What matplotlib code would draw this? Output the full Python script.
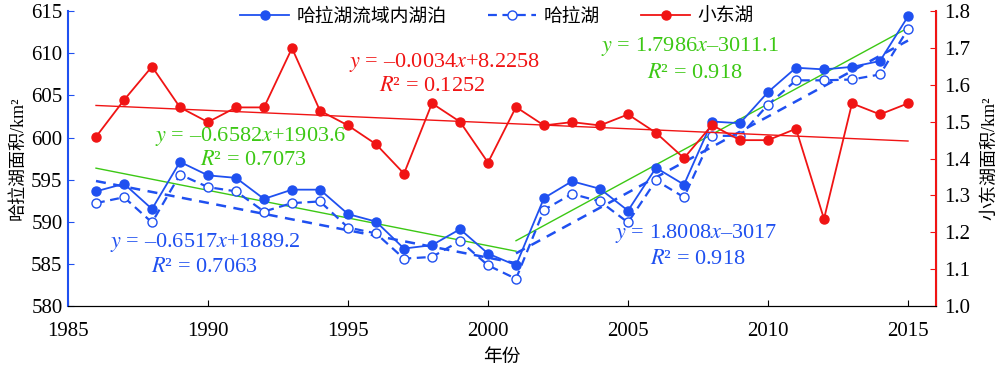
import numpy as np
import matplotlib
matplotlib.use("Agg")
import matplotlib.pyplot as plt

plt.rcParams['font.family'] = ['Liberation Serif', 'Noto Sans CJK SC', 'DejaVu Sans']
plt.rcParams['mathtext.fontset'] = 'stix'

years = list(range(1986, 2016))

# 哈拉湖流域内湖泊 (km2, left axis)
basin_lakes = [593.6, 594.5, 591.5, 597.1, 595.5, 595.2, 592.7, 593.8, 593.8, 590.9,
               590.0, 586.8, 587.2, 589.1, 586.2, 584.8, 592.8, 594.8, 593.9, 591.3,
               596.4, 594.4, 601.9, 601.7, 605.4, 608.3, 608.1, 608.4, 609.1, 614.4]
# 哈拉湖 (km2, left axis)
hala_lake = [592.2, 592.9, 589.9, 595.6, 594.1, 593.6, 591.2, 592.2, 592.4, 589.3,
             588.6, 585.6, 585.8, 587.7, 584.8, 583.2, 591.4, 593.3, 592.4, 589.9,
             594.9, 592.9, 600.2, 600.2, 603.9, 606.8, 606.8, 606.9, 607.5, 612.9]
# 小东湖 (km2, right axis)
xiaodong = [1.459, 1.559, 1.650, 1.539, 1.499, 1.539, 1.539, 1.700, 1.530, 1.490,
            1.439, 1.359, 1.550, 1.500, 1.389, 1.540, 1.490, 1.499, 1.490, 1.520,
            1.470, 1.401, 1.491, 1.450, 1.450, 1.481, 1.236, 1.550, 1.520, 1.550]

split_year = 2001

blue = '#1f50f0'
red = '#f01414'
green = '#3cc814'


def trend(x, y):
    x = np.asarray(x, dtype=float)
    k, b = np.polyfit(x, y, 1)
    ends = np.array([x[0], x[-1]])
    return ends, k * ends + b


fig = plt.figure(figsize=(10, 3.67), dpi=100)
ax = fig.add_axes([0.068, 0.167, 0.868, 0.802])
ax2 = ax.twinx()

yrs = np.array(years)
first = yrs <= split_year
second = yrs >= split_year

# trend lines
for mask in (first, second):
    tx, ty = trend(yrs[mask], np.array(basin_lakes)[mask])
    ax.plot(tx, ty, color=green, lw=1.0, zorder=2)
    tx, ty = trend(yrs[mask], np.array(hala_lake)[mask])
    ax.plot(tx, ty, color=blue, lw=1.8, ls=(0, (4, 3)), zorder=2)
tx, ty = trend(yrs, xiaodong)
ax2.plot(tx, ty, color=red, lw=1.0, zorder=2)

l1, = ax.plot(years, basin_lakes, color=blue, lw=1.3, marker='o', ms=6.5,
              label='哈拉湖流域内湖泊', zorder=3)
l2, = ax.plot(years, hala_lake, color=blue, lw=1.6, ls=(0, (4, 2.5)), marker='o', ms=6.5,
              mfc='white', mew=1.0, label='哈拉湖', zorder=3)
l3, = ax2.plot(years, xiaodong, color=red, lw=1.3, marker='o', ms=6.5,
               label='小东湖', zorder=3)

ax.set_xlim(1985, 2016)
ax.set_ylim(580, 615)
ax.set_yticks(range(580, 616, 5))
ax.set_xticks(range(1985, 2016, 5))
ax2.set_ylim(1.0, 1.8)
ax2.set_yticks(np.round(np.arange(1.0, 1.81, 0.1), 1))

ax.set_xlabel('年份', fontsize=13.5, labelpad=6)
ax.set_ylabel('哈拉湖面积/km²', fontsize=13, labelpad=3)
ax2.set_ylabel('小东湖面积/km²', fontsize=13, labelpad=8)

for a in (ax, ax2):
    a.spines['top'].set_visible(False)
    a.tick_params(direction='in', labelsize=15, length=4)
ax.tick_params(axis='x', pad=11.5)
ax.tick_params(axis='y', pad=4, color=blue)
ax2.tick_params(axis='y', pad=6, color=red)
ax.spines['left'].set_color(blue)
ax.spines['left'].set_linewidth(1.5)
ax2.spines['right'].set_color(red)
ax2.spines['right'].set_linewidth(1.5)
ax2.spines['left'].set_visible(False)

fs = 16
fig.text(0.445, 0.83, r'$y$ = –0.0034$x$+8.2258', color=red, fontsize=fs, ha='center', va='center')
fig.text(0.432, 0.765, r'$R$² = 0.1252', color=red, fontsize=fs, ha='center', va='center')
fig.text(0.251, 0.627, r'$y$ = –0.6582$x$+1903.6', color=green, fontsize=fs, ha='center', va='center')
fig.text(0.253, 0.564, r'$R$² = 0.7073', color=green, fontsize=fs, ha='center', va='center')
fig.text(0.690, 0.872, r'$y$ = 1.7986$x$–3011.1', color=green, fontsize=fs, ha='center', va='center')
fig.text(0.695, 0.801, r'$R$² = 0.918', color=green, fontsize=fs, ha='center', va='center')
fig.text(0.205, 0.340, r'$y$ = –0.6517$x$+1889.2', color=blue, fontsize=fs, ha='center', va='center')
fig.text(0.204, 0.270, r'$R$² = 0.7063', color=blue, fontsize=fs, ha='center', va='center')
fig.text(0.696, 0.365, r'$y$ = 1.8008$x$–3017', color=blue, fontsize=fs, ha='center', va='center')
fig.text(0.698, 0.294, r'$R$² = 0.918', color=blue, fontsize=fs, ha='center', va='center')

fig.legend(handles=[l1, l2, l3], loc='center', bbox_to_anchor=(0.497, 0.954), ncol=3,
           frameon=False, fontsize=13.5, handlelength=2.6, columnspacing=2.2,
           handletextpad=0.4)

fig.savefig('out.png', dpi=100)
